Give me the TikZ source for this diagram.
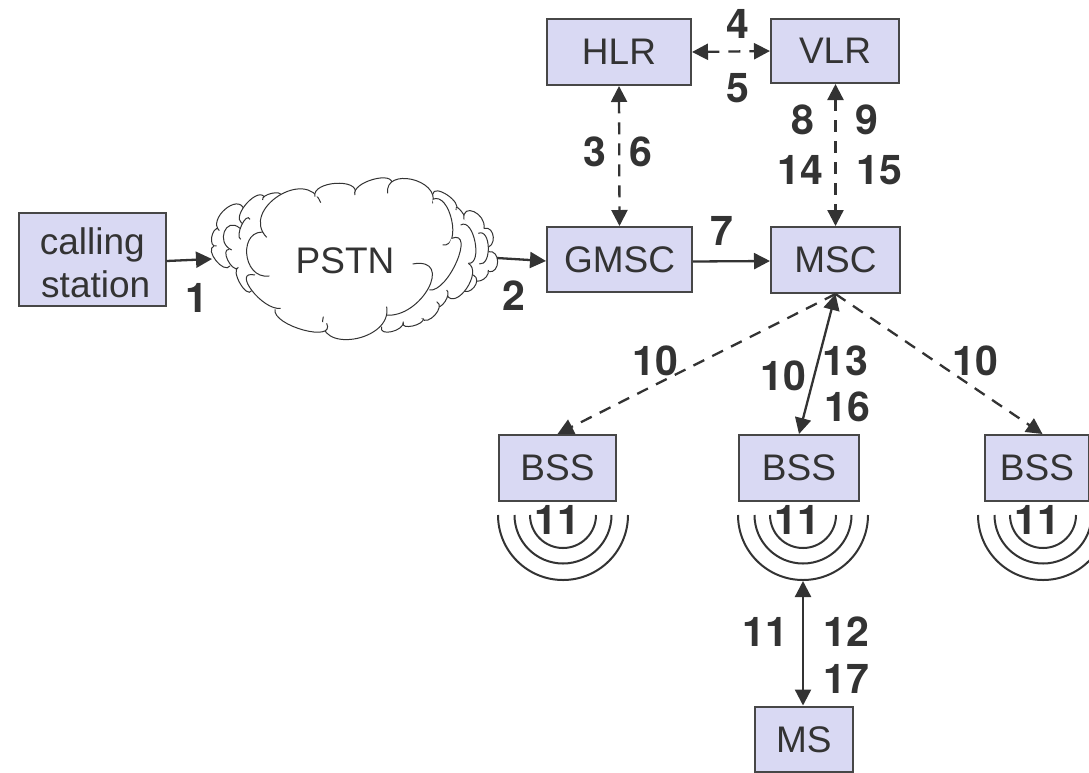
\documentclass[tikz,border=0pt]{standalone}
\usepackage{fontspec}
\setmainfont{Liberation Sans}
\newfontfamily\numfont{TeX Gyre Heros}
\usetikzlibrary{arrows.meta,positioning}
\definecolor{boxfill}{HTML}{D9D9F3}
\definecolor{ink}{HTML}{333333}
\tikzset{
 box/.style={draw=ink!90,line width=2pt,fill=boxfill,text=ink,font=\fontsize{37}{43}\selectfont,align=center,inner sep=0pt},
 num/.style={text=ink,font=\numfont\fontsize{41}{44}\bfseries\selectfont,inner sep=0pt,align=center},
 link/.style={draw=ink,line width=2.3pt,-{Triangle[length=16pt,width=16pt]}},
 dlink/.style={link,{Triangle[length=16pt,width=16pt]}-{Triangle[length=16pt,width=16pt]}},
 dashy/.style={dash pattern=on 12pt off 9pt},
 wave/.style={draw=ink,line width=2pt},
 cl/.style={draw=ink,line width=1pt,fill=white},
}
\newcommand{\boxat}[6]{\node[box,minimum width=#4-#2,minimum height=#5-#3] (#1) at ({(#2+#4)/2},{(#3+#5)/2}) {#6};}
% lobe through three points, in zoom coordinates of the cloud
\newcommand{\lobe}[6]{%
 \pgfmathsetmacro\ldx{4/3*(#3-(#1+#5)/2)}%
 \pgfmathsetmacro\ldy{4/3*(#4-(#2+#6)/2)}%
 \pgfmathsetmacro\lsx{.12*(#5-#1)}%
 \pgfmathsetmacro\lsy{.12*(#6-#2)}%
 \draw[cl] (#1,#2) .. controls ({#1+\ldx-\lsx},{#2+\ldy-\lsy}) and ({#5+\ldx+\lsx},{#6+\ldy+\lsy}) .. (#5,#6);}
\newcommand{\waves}[2]{%
 \foreach \r in {33,48.5,65}{\draw[wave] ({#1-\r},#2) arc[start angle=180,end angle=360,x radius=\r,y radius=-\r];}}
\begin{document}
\begin{tikzpicture}[x=1pt,y=-1pt]
\useasboundingbox (0,0) rectangle (1089,772);
% cloud
\begin{scope}[shift={(190,160)},x=.3333pt,y=-.3333pt]
 % far left puffs
 \lobe{88}{205}{65}{232}{80}{258}
 \lobe{72}{258}{78}{302}{120}{318}
 \lobe{162}{148}{105}{148}{88}{212}
 \lobe{155}{190}{172}{128}{225}{115}
 \lobe{218}{120}{245}{100}{272}{108}
 \lobe{150}{205}{103}{215}{125}{270}
 \lobe{180}{178}{155}{195}{152}{238}
 \lobe{118}{268}{113}{300}{145}{325}
 \lobe{145}{322}{150}{370}{185}{392}
 % far right puffs
 \lobe{728}{103}{772}{105}{798}{150}
 \lobe{798}{145}{815}{155}{825}{180}
 \lobe{822}{178}{852}{155}{882}{205}
 \lobe{882}{205}{910}{232}{885}{262}
 \lobe{895}{275}{923}{305}{895}{335}
 \lobe{865}{220}{895}{262}{868}{312}
 \lobe{895}{330}{872}{362}{850}{345}
 \lobe{850}{345}{852}{382}{815}{388}
 \lobe{812}{195}{855}{245}{835}{310}
 \lobe{835}{310}{830}{385}{770}{405}
 \lobe{770}{390}{765}{425}{740}{435}
 \lobe{740}{425}{735}{465}{695}{475}
 \lobe{700}{475}{668}{498}{640}{488}
 \lobe{640}{485}{605}{515}{575}{500}
 % front cloud
 \fill[white] (230,232) -- (172,280) -- (200,400) -- (255,448) -- (400,490) -- (590,480) -- (715,390) -- (795,290) -- (780,180) -- (728,118) -- (660,70) -- (440,80) -- (320,110) -- cycle;
 \lobe{272}{445}{186}{392}{195}{345}
 \lobe{238}{348}{170}{280}{230}{218}
 \lobe{230}{232}{265}{108}{392}{128}
 \lobe{375}{110}{437}{70}{495}{102}
 \lobe{495}{105}{550}{58}{605}{75}
 \lobe{593}{100}{665}{58}{728}{130}
 \lobe{728}{118}{785}{180}{758}{255}
 \lobe{785}{235}{800}{305}{718}{390}
 \lobe{668}{312}{715}{385}{585}{465}
 \lobe{590}{440}{492}{537}{400}{470}
 \lobe{410}{490}{340}{510}{255}{448}
\end{scope}
\node[text=ink,font=\fontsize{37}{42}\selectfont,inner sep=0pt] (pstn) at (345,261) {PSTN};
\coordinate (cloudL) at (212,259);
\coordinate (cloudR) at (497,258);
% boxes
\boxat{calling}{19}{213}{165.5}{306}{\rule{0pt}{34pt}calling\\\hspace*{7pt}station}
\boxat{hlr}{547}{19}{691}{85}{HLR}
\boxat{vlr}{771}{19}{899}{83}{VLR}
\boxat{gmsc}{547}{227}{692}{292}{GMSC}
\boxat{msc}{771}{227}{900}{293}{MSC}
\boxat{bssa}{499}{435}{616}{501}{BSS}
\boxat{bssb}{739}{435}{859}{501}{BSS}
\boxat{bssc}{985}{435}{1089}{501}{BSS}
\boxat{ms}{755}{706.5}{852.5}{772}{MS}
% waves
\waves{563}{515}
\waves{803}{515}
\waves{1043}{515}
% connectors
\coordinate (wavb) at (803,581);
\draw[link] ([yshift=-1.5pt]calling.east) -- (cloudL);
\draw[link] (cloudR) -- ([yshift=-1.5pt]gmsc.west);
\draw[link] ([yshift=-2pt]gmsc.east) -- ([yshift=-1pt]msc.west);
\draw[dlink,dashy] (hlr.east) -- (vlr.west);
\draw[dlink,dashy] (hlr.south) -- (gmsc.north);
\draw[dlink,dashy] (vlr.south -| msc.north) -- (msc.north);
\draw[link,dashy] (msc.south) -- (bssa.north);
\draw[link,dashy] (msc.south) -- ([xshift=5.5pt]bssc.north);
\draw[dlink] (msc.south) -- (bssb.north);
\draw[dlink] (wavb) -- (ms.north -| wavb);
% labels
\foreach \n/\x/\y/\t in {a/197/298/1,b/514/296/2,c/595/152/3,d/641/152/6,e/738/24/4,f/738/88/5,g/803/120/8,h/867/120/9,i/800/170/14,j/879/170/15,k/722/231/7,l/655/361/10,m/783/376/10,n/845/361/13,o/847/407/16,p/975/361/10,q/557/520/11,r/797/520/11,s/1037/520/11,u/765/632/11,v/846/632/12,w/846/679/17}
 \node[num] (lab\n) at (\x,\y) {\t};
\end{tikzpicture}
\end{document}
